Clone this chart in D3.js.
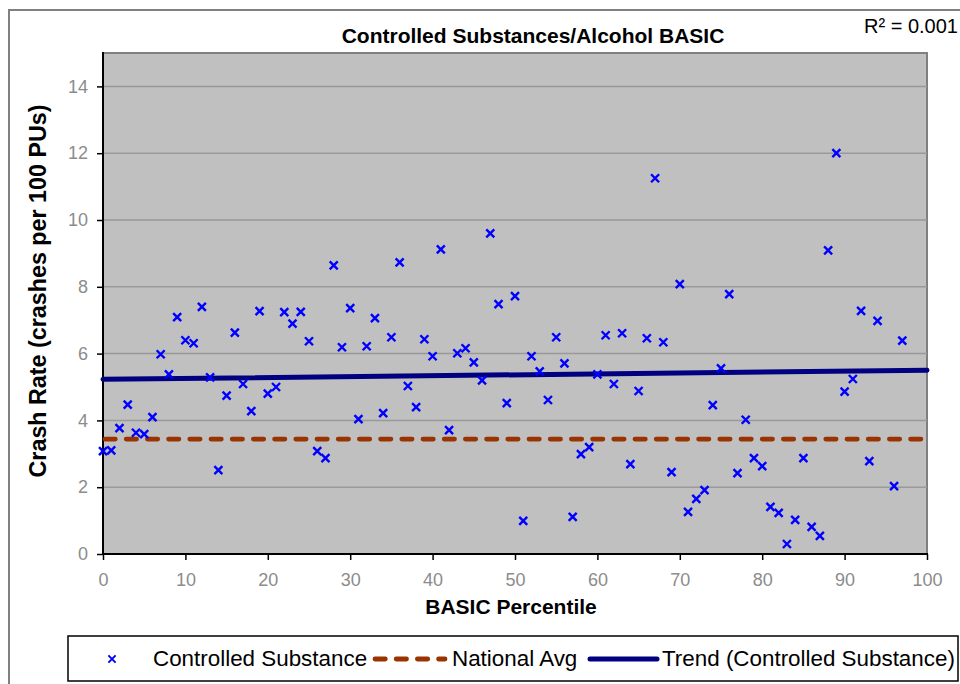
<!DOCTYPE html>
<html>
<head>
<meta charset="utf-8">
<title>Controlled Substances/Alcohol BASIC</title>
<style>
body { margin: 0; background: #fff; }
svg { display: block; font-family: "Liberation Sans", Arial, sans-serif; }
.tick text { fill: #8c8c8c; font-size: 18px; }
.tick line { stroke: #000; stroke-width: 1.5px; }
.domain { display: none; }
</style>
</head>
<body>
<svg width="960" height="684"></svg>
<script src="https://cdn.jsdelivr.net/npm/d3@7"></script>
<script>

// BASIC percentile (x) and crash rate per 100 PUs (y)
var percentile = [0,1,2,3,4,5,6,7,8,9,10,11,12,13,14,15,16,17,18,19,20,21,22,23,24,25,26,27,28,29,
  30,31,32,33,34,35,36,37,38,39,40,41,42,43,44,45,46,47,48,49,50,51,52,53,54,55,56,57,58,59,
  60,61,62,63,64,65,66,67,68,69,70,71,72,73,74,75,76,77,78,79,80,81,82,83,84,85,86,87,88,89,
  90,91,92,93,94,96,97];
var crashRate = [3.08,3.1,3.77,4.47,3.63,3.59,4.10,5.98,5.38,7.09,6.40,6.31,7.40,5.29,2.51,4.74,6.63,5.09,4.28,7.27,
  4.80,5.00,7.24,6.90,7.25,6.37,3.08,2.87,8.64,6.19,7.36,4.04,6.22,7.06,4.22,6.49,8.73,5.03,4.40,6.43,
  5.92,9.12,3.71,6.01,6.16,5.74,5.20,9.60,7.48,4.52,7.72,0.99,5.92,5.47,4.61,6.49,5.71,1.11,2.99,3.20,
  5.38,6.55,5.09,6.61,2.69,4.88,6.46,11.25,6.34,2.45,8.08,1.26,1.65,1.91,4.46,5.56,7.78,2.42,4.02,2.87,
  2.63,1.41,1.23,0.30,1.02,2.87,0.81,0.54,9.09,12.0,4.86,5.24,7.28,2.78,6.98,2.03,6.39];

var nationalAvg = 3.44;
var trendX = [0, 100];
var trendY = [5.23, 5.50];
var rSquared = "R\u00b2 = 0.001";

var xTicks = [0,10,20,30,40,50,60,70,80,90,100];
var yTicks = [0,2,4,6,8,10,12,14];
var yGrid = [2,4,6,8,10,12,14];

var svg = d3.select("svg");

var plot = { left: 103, right: 927, top: 53, bottom: 554 };

var x = d3.scaleLinear().domain([0, 100]).range([plot.left, plot.right]);
var y = d3.scaleLinear().domain([0, 15]).range([plot.bottom, plot.top]);

// chart area border (runs off the page on the right and bottom)
svg.append("rect")
    .attr("x", 9).attr("y", 10)
    .attr("width", 980).attr("height", 700)
    .attr("fill", "#fff")
    .attr("stroke", "#808080")
    .attr("stroke-width", 2);

// plot background
svg.append("rect")
    .attr("x", plot.left).attr("y", plot.top)
    .attr("width", plot.right - plot.left).attr("height", plot.bottom - plot.top)
    .attr("fill", "#c0c0c0")
    .attr("stroke", "#808080")
    .attr("stroke-width", 2);

svg.append("g").selectAll("line")
    .data(yGrid)
  .enter().append("line")
    .attr("x1", plot.left).attr("x2", plot.right)
    .attr("y1", function(d) { return y(d); })
    .attr("y2", function(d) { return y(d); })
    .attr("stroke", "#999")
    .attr("stroke-width", 1.5);

// axes
var yAxis = svg.append("g")
    .attr("transform", "translate(" + plot.left + ",0)")
    .call(d3.axisLeft(y).tickValues(yTicks).tickSize(6).tickSizeOuter(0).tickPadding(9));

var xAxis = svg.append("g")
    .attr("transform", "translate(0," + plot.bottom + ")")
    .call(d3.axisBottom(x).tickValues(xTicks).tickSize(6).tickSizeOuter(0).tickPadding(9));
xAxis.selectAll(".tick text").attr("dy", "0.95em");

svg.append("line")
    .attr("x1", plot.left).attr("x2", plot.left)
    .attr("y1", plot.top - 1).attr("y2", plot.bottom)
    .attr("stroke", "#000").attr("stroke-width", 2);
svg.append("line")
    .attr("x1", plot.left).attr("x2", plot.right + 1)
    .attr("y1", plot.bottom).attr("y2", plot.bottom)
    .attr("stroke", "#000").attr("stroke-width", 2);

// national average
svg.append("line")
    .attr("x1", x(0) + 2).attr("x2", x(100) - 2)
    .attr("y1", y(nationalAvg)).attr("y2", y(nationalAvg))
    .attr("stroke", "#993300")
    .attr("stroke-width", 4.8)
    .attr("stroke-linecap", "round")
    .attr("stroke-dasharray", "10.3,10.9");

// trend
var trendLine = d3.line()
    .x(function(d, i) { return x(d); })
    .y(function(d, i) { return y(trendY[i]); });
svg.append("path")
    .attr("d", trendLine(trendX))
    .attr("fill", "none")
    .attr("stroke", "#000080")
    .attr("stroke-width", 5)
    .attr("stroke-linecap", "round");

// x markers
function cross(g, s, w) {
  g.append("path")
      .attr("d", "M" + (-s) + "," + (-s) + "L" + s + "," + s + "M" + (-s) + "," + s + "L" + s + "," + (-s))
      .attr("stroke", "#0000ff")
      .attr("stroke-width", w)
      .attr("fill", "none");
}

svg.append("g").selectAll("g")
    .data(percentile)
  .enter().append("g")
    .attr("transform", function(d, i) { return "translate(" + x(d) + "," + y(crashRate[i]) + ")"; })
    .each(function() { cross(d3.select(this), 4, 2.4); });

// titles
svg.append("text")
    .attr("x", 533).attr("y", 43)
    .attr("text-anchor", "middle")
    .attr("font-weight", "bold")
    .attr("font-size", 21)
    .text("Controlled Substances/Alcohol BASIC");

svg.append("text")
    .attr("x", 958).attr("y", 33)
    .attr("text-anchor", "end")
    .attr("font-size", 20)
    .text(rSquared);

svg.append("text")
    .attr("x", 511).attr("y", 614)
    .attr("text-anchor", "middle")
    .attr("font-weight", "bold")
    .attr("font-size", 21)
    .text("BASIC Percentile");

svg.append("text")
    .attr("transform", "translate(46,291) rotate(-90)")
    .attr("text-anchor", "middle")
    .attr("font-weight", "bold")
    .attr("font-size", 23.3)
    .text("Crash Rate (crashes per 100 PUs)");

// legend
var legend = svg.append("g");
legend.append("rect")
    .attr("x", 68).attr("y", 636)
    .attr("width", 890).attr("height", 45)
    .attr("fill", "#fff")
    .attr("stroke", "#000")
    .attr("stroke-width", 1.5);

var lg1 = legend.append("g").attr("transform", "translate(112,659)");
cross(lg1, 3.6, 2);
legend.append("text").attr("x", 153).attr("y", 666).attr("font-size", 22.4).text("Controlled Substance");

legend.append("line")
    .attr("x1", 375).attr("x2", 445)
    .attr("y1", 659).attr("y2", 659)
    .attr("stroke", "#993300")
    .attr("stroke-width", 4.8)
    .attr("stroke-linecap", "round")
    .attr("stroke-dasharray", "10.3,10.9");
legend.append("text").attr("x", 452).attr("y", 666).attr("font-size", 22.4).text("National Avg");

legend.append("line")
    .attr("x1", 590).attr("x2", 657)
    .attr("y1", 659).attr("y2", 659)
    .attr("stroke", "#000080")
    .attr("stroke-width", 5)
    .attr("stroke-linecap", "round");
legend.append("text").attr("x", 662).attr("y", 666).attr("font-size", 22.4).text("Trend (Controlled Substance)");

</script>
</body>
</html>
